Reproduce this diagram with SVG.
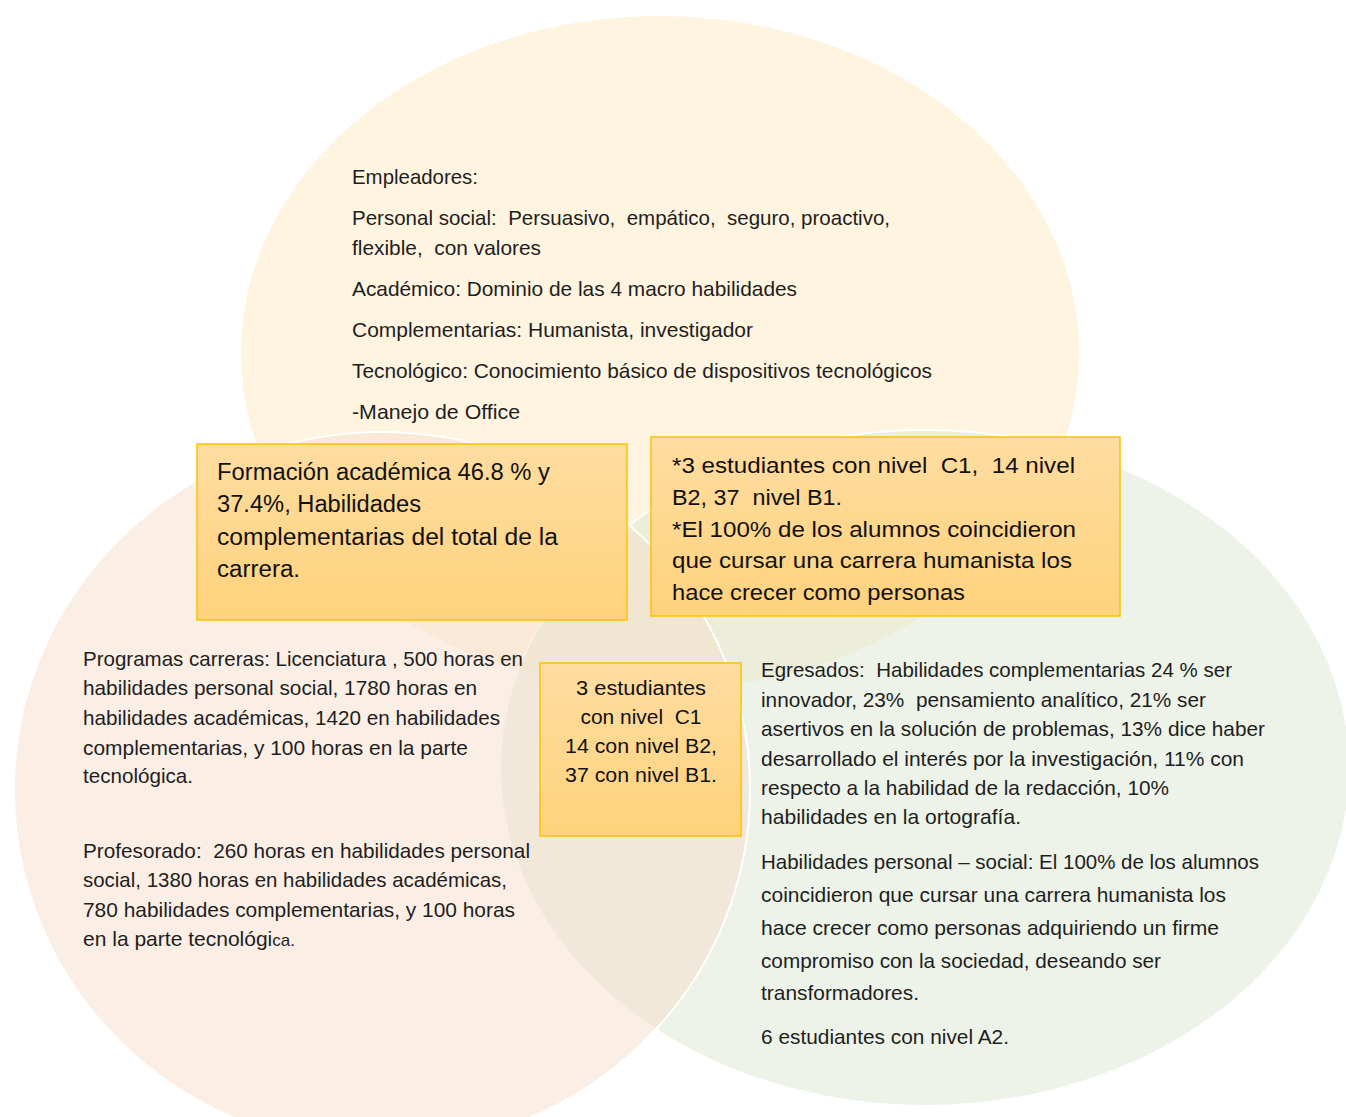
<svg xmlns="http://www.w3.org/2000/svg" width="1346" height="1117" viewBox="0 0 1346 1117">
<defs>
<linearGradient id="boxg" x1="0" y1="0" x2="0" y2="1">
<stop offset="0" stop-color="#FFDDA1"/>
<stop offset="1" stop-color="#FFD27C"/>
</linearGradient>
<style>
.circ{stroke:#FFFFFF;stroke-width:2;fill-opacity:0.5}
.box{fill:url(#boxg);stroke:#FFC000;stroke-width:1.5}
.t{font-family:"Liberation Sans",Arial,sans-serif;fill:#1E1E1E;font-size:21px}
.b1{font-family:"Liberation Sans",Arial,sans-serif;fill:#111111;font-size:23px}
.b2{font-family:"Liberation Sans",Arial,sans-serif;fill:#111111;font-size:22px}
.b3{font-family:"Liberation Sans",Arial,sans-serif;fill:#111111;font-size:20px;text-anchor:middle}
</style>
</defs>
<rect width="1346" height="1117" fill="#FFFFFF"/>
<g id="circles">
<ellipse id="circle-empleadores" class="circ" cx="660" cy="353" rx="420" ry="338" fill="#FEE9C2"/>
<ellipse id="circle-egresados" class="circ" cx="925" cy="768" rx="425" ry="338" fill="#DCE8D2"/>
<ellipse id="circle-programas" class="circ" cx="382" cy="790" rx="368" ry="358" fill="#F5DECC"/>
</g>
<g id="connectors"></g>
<g id="node-empleadores">
<text class="t" x="352" y="184" textLength="126" lengthAdjust="spacingAndGlyphs">Empleadores:</text>
<text class="t" x="352" y="225" textLength="538" lengthAdjust="spacingAndGlyphs" xml:space="preserve">Personal social:  Persuasivo,  empático,  seguro, proactivo,</text>
<text class="t" x="352" y="255" textLength="189" lengthAdjust="spacingAndGlyphs" xml:space="preserve">flexible,  con valores</text>
<text class="t" x="352" y="296" textLength="445" lengthAdjust="spacingAndGlyphs">Académico: Dominio de las 4 macro habilidades</text>
<text class="t" x="352" y="337" textLength="401" lengthAdjust="spacingAndGlyphs">Complementarias: Humanista, investigador</text>
<text class="t" x="352" y="378" textLength="580" lengthAdjust="spacingAndGlyphs">Tecnológico: Conocimiento básico de dispositivos tecnológicos</text>
<text class="t" x="352" y="419" textLength="168" lengthAdjust="spacingAndGlyphs">-Manejo de Office</text>
</g>
<g id="node-programas">
<text class="t" x="83" y="666" textLength="440" lengthAdjust="spacingAndGlyphs">Programas carreras: Licenciatura , 500 horas en</text>
<text class="t" x="83" y="695" textLength="394" lengthAdjust="spacingAndGlyphs">habilidades personal social, 1780 horas en</text>
<text class="t" x="83" y="725" textLength="417" lengthAdjust="spacingAndGlyphs">habilidades académicas, 1420 en habilidades</text>
<text class="t" x="83" y="755" textLength="385" lengthAdjust="spacingAndGlyphs">complementarias, y 100 horas en la parte</text>
<text class="t" x="83" y="783" textLength="110" lengthAdjust="spacingAndGlyphs">tecnológica.</text>
<text class="t" x="83" y="858" textLength="447" lengthAdjust="spacingAndGlyphs" xml:space="preserve">Profesorado:  260 horas en habilidades personal</text>
<text class="t" x="83" y="887" textLength="424" lengthAdjust="spacingAndGlyphs">social, 1380 horas en habilidades académicas,</text>
<text class="t" x="83" y="917" textLength="432" lengthAdjust="spacingAndGlyphs">780 habilidades complementarias, y 100 horas</text>
<text class="t" x="83" y="946" textLength="212" lengthAdjust="spacingAndGlyphs">en la parte tecnológi<tspan font-size="17">ca.</tspan></text>
</g>
<g id="node-egresados">
<text class="t" x="761" y="677" textLength="471" lengthAdjust="spacingAndGlyphs" xml:space="preserve">Egresados:  Habilidades complementarias 24 % ser</text>
<text class="t" x="761" y="707" textLength="445" lengthAdjust="spacingAndGlyphs" xml:space="preserve">innovador, 23%  pensamiento analítico, 21% ser</text>
<text class="t" x="761" y="736" textLength="504" lengthAdjust="spacingAndGlyphs">asertivos en la solución de problemas, 13% dice haber</text>
<text class="t" x="761" y="766" textLength="483" lengthAdjust="spacingAndGlyphs">desarrollado el interés por la investigación, 11% con</text>
<text class="t" x="761" y="795" textLength="408" lengthAdjust="spacingAndGlyphs">respecto a la habilidad de la redacción, 10%</text>
<text class="t" x="761" y="824" textLength="260" lengthAdjust="spacingAndGlyphs">habilidades en la ortografía.</text>
<text class="t" x="761" y="869" textLength="498" lengthAdjust="spacingAndGlyphs">Habilidades personal – social: El 100% de los alumnos</text>
<text class="t" x="761" y="902" textLength="465" lengthAdjust="spacingAndGlyphs">coincidieron que cursar una carrera humanista los</text>
<text class="t" x="761" y="935" textLength="458" lengthAdjust="spacingAndGlyphs">hace crecer como personas adquiriendo un firme</text>
<text class="t" x="761" y="968" textLength="400" lengthAdjust="spacingAndGlyphs">compromiso con la sociedad, deseando ser</text>
<text class="t" x="761" y="1000" textLength="158" lengthAdjust="spacingAndGlyphs">transformadores.</text>
<text class="t" x="761" y="1044" textLength="248" lengthAdjust="spacingAndGlyphs">6 estudiantes con nivel A2.</text>
</g>
<g id="node-formacion">
<rect class="box" x="197" y="444" width="430" height="176"/>
<text class="b1" x="217" y="480" textLength="333" lengthAdjust="spacingAndGlyphs">Formación académica 46.8 % y</text>
<text class="b1" x="217" y="512" textLength="204" lengthAdjust="spacingAndGlyphs">37.4%, Habilidades</text>
<text class="b1" x="217" y="545" textLength="341" lengthAdjust="spacingAndGlyphs">complementarias del total de la</text>
<text class="b1" x="217" y="577" textLength="83" lengthAdjust="spacingAndGlyphs">carrera.</text>
</g>
<g id="node-estudiantes-resumen">
<rect class="box" x="651" y="437" width="469" height="179"/>
<text class="b2" x="672" y="473" textLength="403" lengthAdjust="spacingAndGlyphs" xml:space="preserve">*3 estudiantes con nivel  C1,  14 nivel</text>
<text class="b2" x="672" y="505" textLength="170" lengthAdjust="spacingAndGlyphs" xml:space="preserve">B2, 37  nivel B1.</text>
<text class="b2" x="672" y="537" textLength="404" lengthAdjust="spacingAndGlyphs">*El 100% de los alumnos coincidieron</text>
<text class="b2" x="672" y="568" textLength="400" lengthAdjust="spacingAndGlyphs">que cursar una carrera humanista los</text>
<text class="b2" x="672" y="600" textLength="293" lengthAdjust="spacingAndGlyphs">hace crecer como personas</text>
</g>
<g id="node-estudiantes-centro">
<rect class="box" x="540" y="663" width="201" height="173"/>
<text class="b3" x="641" y="695" textLength="130" lengthAdjust="spacingAndGlyphs">3 estudiantes</text>
<text class="b3" x="641" y="724" textLength="121" lengthAdjust="spacingAndGlyphs" xml:space="preserve">con nivel  C1</text>
<text class="b3" x="641" y="753" textLength="152" lengthAdjust="spacingAndGlyphs">14 con nivel B2,</text>
<text class="b3" x="641" y="782" textLength="152" lengthAdjust="spacingAndGlyphs">37 con nivel B1.</text>
</g>
</svg>
